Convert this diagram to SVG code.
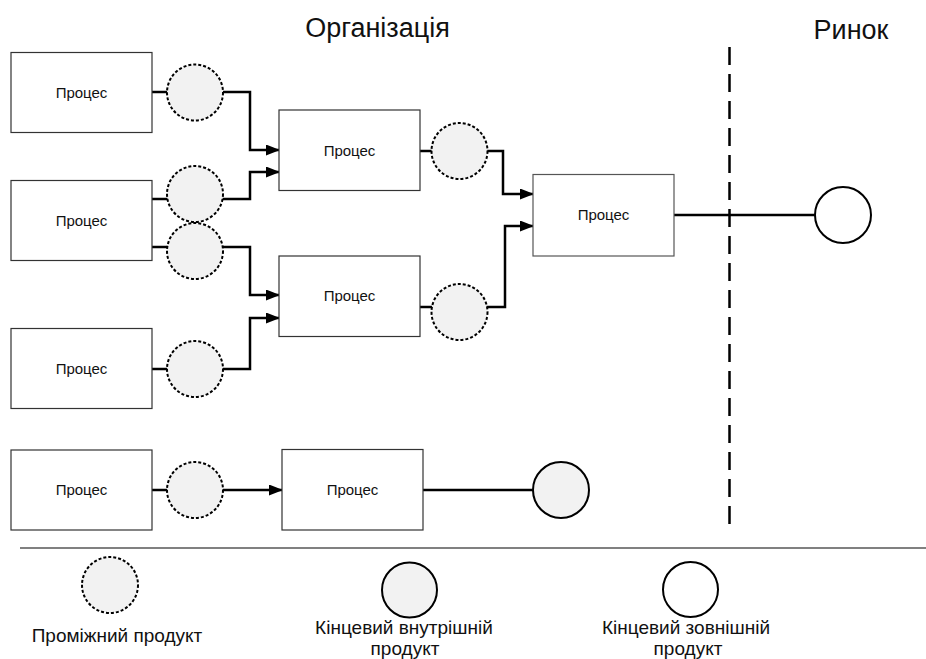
<svg xmlns="http://www.w3.org/2000/svg" width="926" height="659" viewBox="0 0 926 659">
<defs>
<style>
.box{fill:#fff;stroke:#333;stroke-width:1.2}
.lbl{font-family:"Liberation Sans",Arial,sans-serif;font-size:15px;fill:#111;text-anchor:middle}
.title{font-family:"Liberation Sans",Arial,sans-serif;font-size:27px;fill:#111;text-anchor:middle}
.leg{font-family:"Liberation Sans",Arial,sans-serif;font-size:19px;fill:#111;text-anchor:middle}
.mid{fill:#f2f2f2;stroke:#000;stroke-width:2;stroke-dasharray:3 2}
.int{fill:#f2f2f2;stroke:#000;stroke-width:2}
.ext{fill:#fff;stroke:#000;stroke-width:2}
.c{fill:none;stroke:#000;stroke-width:2.5}
.ca{fill:none;stroke:#000;stroke-width:2.5;marker-end:url(#arr)}
</style>
<marker id="arr" markerUnits="userSpaceOnUse" markerWidth="14" markerHeight="12" refX="13" refY="5.5" orient="auto">
<path d="M0,0 L14,5.5 L0,11 z" fill="#000"/>
</marker>
</defs>
<rect width="926" height="659" fill="#fff"/>
<text class="title" x="377.5" y="37">Організація</text>
<text class="title" x="851" y="39">Ринок</text>
<line x1="729.5" y1="47" x2="729.5" y2="532" stroke="#000" stroke-width="2.5" stroke-dasharray="18 9"/>
<line x1="20" y1="548" x2="926" y2="548" stroke="#808080" stroke-width="2"/>
<g id="connectors">
<line class="c" x1="152" y1="92" x2="167" y2="92"/>
<path class="ca" d="M223,92 H250 V150 H279"/>
<line class="c" x1="152" y1="199" x2="168" y2="199"/>
<path class="ca" d="M222,199 H250 V172 H279"/>
<line class="c" x1="152" y1="247" x2="168" y2="247"/>
<path class="ca" d="M222,247 H250 V295 H279"/>
<line class="c" x1="152" y1="369" x2="167" y2="369"/>
<path class="ca" d="M223,369 H250 V318 H279"/>
<line class="c" x1="420" y1="151" x2="432" y2="151"/>
<path class="ca" d="M487,151 H503 V194 H533"/>
<line class="c" x1="420" y1="307" x2="432" y2="307"/>
<path class="ca" d="M486,307 H505 V226 H533"/>
<line class="c" x1="674" y1="215" x2="815" y2="215"/>
<line class="c" x1="152" y1="490" x2="167" y2="490"/>
<path class="ca" d="M223,490 H282"/>
<line class="c" x1="423" y1="490" x2="533" y2="490"/>
</g>
<g id="p1"><rect class="box" x="11" y="52.5" width="141" height="80"/><text class="lbl" x="81.5" y="97.5">Процес</text></g>
<g id="p2"><rect class="box" x="11" y="180.5" width="141" height="80"/><text class="lbl" x="81.5" y="225.5">Процес</text></g>
<g id="p3"><rect class="box" x="11" y="328.5" width="141" height="80"/><text class="lbl" x="81.5" y="373.5">Процес</text></g>
<g id="p5"><rect class="box" x="11" y="450" width="141" height="80"/><text class="lbl" x="81.5" y="495">Процес</text></g>
<g id="pA"><rect class="box" x="279" y="110" width="141" height="80.5"/><text class="lbl" x="349.5" y="155.5">Процес</text></g>
<g id="pB"><rect class="box" x="279" y="256" width="141" height="80.5"/><text class="lbl" x="349.5" y="301">Процес</text></g>
<g id="pC"><rect class="box" x="282" y="449.5" width="141" height="80.5"/><text class="lbl" x="352.5" y="495">Процес</text></g>
<g id="pR"><rect class="box" x="533" y="174.5" width="141" height="81.5" style="stroke:#555"/><text class="lbl" x="603.5" y="220">Процес</text></g>
<g id="m1"><circle class="mid" cx="195" cy="92.5" r="28"/></g>
<g id="m2"><circle class="mid" cx="195" cy="194" r="28"/></g>
<g id="m3"><circle class="mid" cx="195" cy="251" r="28"/></g>
<g id="m4"><circle class="mid" cx="195" cy="369" r="28"/></g>
<g id="m5"><circle class="mid" cx="195" cy="490" r="28"/></g>
<g id="mA"><circle class="mid" cx="459.5" cy="151" r="28"/></g>
<g id="mB"><circle class="mid" cx="459.5" cy="312" r="28"/></g>
<g id="fi"><circle class="int" cx="561" cy="490" r="28"/></g>
<g id="fe"><circle class="ext" cx="843" cy="215" r="28"/></g>
<g id="legend">
<circle class="mid" cx="110" cy="585" r="28"/>
<text class="leg" x="117" y="642">Проміжний продукт</text>
<circle class="int" cx="409.5" cy="590" r="27.5"/>
<text class="leg" x="404" y="634">Кінцевий внутрішній</text>
<text class="leg" x="405" y="655">продукт</text>
<circle class="ext" cx="690.5" cy="589.5" r="27.5"/>
<text class="leg" x="686" y="634">Кінцевий зовнішній</text>
<text class="leg" x="688" y="655">продукт</text>
</g>
</svg>
